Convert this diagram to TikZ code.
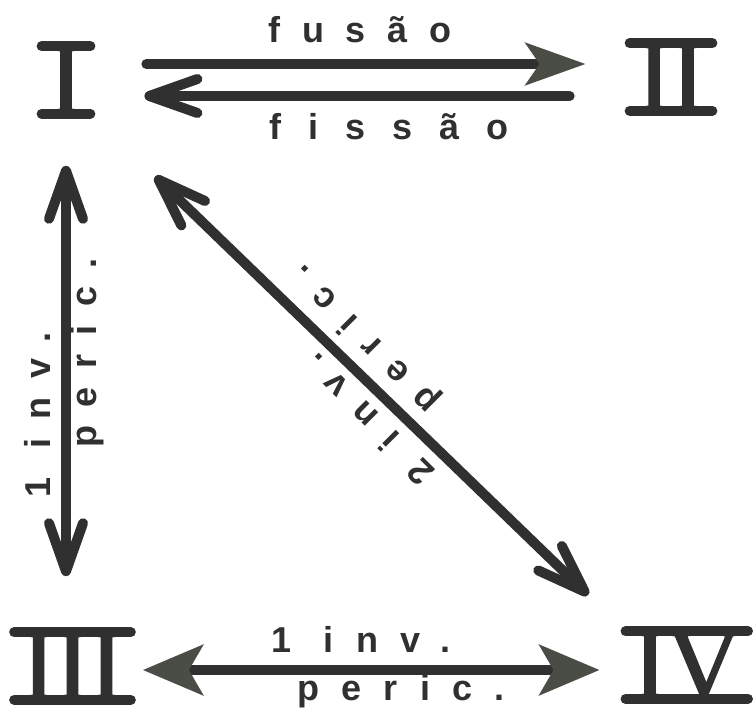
\documentclass[tikz,border=0pt]{standalone}
\usepackage{fontspec}
\setmainfont{Liberation Serif}
\newfontfamily\numfont{Liberation Serif}[FakeBold=2]
\newfontfamily\labelfont{Liberation Sans}
\usetikzlibrary{arrows.meta}
\definecolor{ink}{HTML}{303030}
\definecolor{headgrey}{HTML}{4A4C46}

\begin{document}
\begin{tikzpicture}[x=0.5pt,y=-0.5pt,
  numeral/.style={font=\numfont\fontsize{51}{51}\selectfont,text=ink,inner xsep=3.5pt,inner ysep=0pt,text height=33.4pt,text depth=0pt},
  bar/.style={line width=5pt,line cap=round,draw=ink},
  lbl/.style={font=\labelfont\bfseries\fontsize{18}{18}\selectfont\addfontfeature{LetterSpace=#1},text=ink,inner sep=0pt,anchor=base},
  lbl/.default=52,
  arr/.style={line width=5pt,draw=ink,line cap=round},
  twobarb/.style={arr,{Straight Barb[length=24pt,width=17pt,round]}-{Straight Barb[length=24pt,width=17pt,round]}},
  backbarb/.style={arr,-{Straight Barb[length=24pt,width=17pt,round]}},
  fwdhead/.style={arr,-{Stealth[length=30pt,width=21pt,inset=7pt,color=headgrey]}},
  twohead/.style={arr,{Stealth[length=30pt,width=25pt,inset=7pt,color=headgrey]}-{Stealth[length=30pt,width=25pt,inset=7pt,color=headgrey]}}
]
\path[use as bounding box,fill=white] (0,0) rectangle (753,711);

% the four isomers
\node[numeral] (i) at (66,80) {I};
\node[numeral] (ii) at (671,77) {II};
\node[numeral] (iii) at (72.5,666) {III};
\node[numeral] (iv) at (686.75,665) {IV};
\foreach \n in {i,ii,iii,iv}
  \draw[bar] (\n.north west) -- (\n.north east) (\n.south west) -- (\n.south east);

% I <-> II
\draw[fwdhead,shorten <=28pt,shorten >=22pt] ([yshift=8pt]i.east) -- ([yshift=8pt]i.east -| ii.west);
\draw[backbarb,shorten <=30pt,shorten >=27pt] ([yshift=-8pt]i.east -| ii.west) -- ([yshift=-8pt]i.east);
\node[lbl=60] (fus) at (360,43) {fusão};
\node[lbl=75] (fis) at (389,140) {fissão};

% I <-> III
\draw[twobarb,shorten <=26pt,shorten >=28pt] (i.south) -- (i.south |- iii.north);
\node[lbl,rotate=90] (invl) at (50,415) {1 inv.};
\node[lbl,rotate=90] (perl) at (96,353) {peric.};

% I <-> IV
\draw[twobarb,shorten <=45pt,shorten >=26pt] (i.south east) -- (iv.north west);
\node[lbl=55,rotate=135] (invd) at (377,411) {2 inv.};
\node[lbl=55,rotate=135] (perd) at (372,332) {peric.};

% III <-> IV
\draw[twohead,shorten <=6pt,shorten >=13pt] ([yshift=-2pt]iii.east) -- ([yshift=-2pt]iii.east -| iv.west);
\node[lbl=62] (invb) at (361,652) {1 inv.};
\node[lbl=62] (perb) at (401,700) {peric.};
\end{tikzpicture}
\end{document}
